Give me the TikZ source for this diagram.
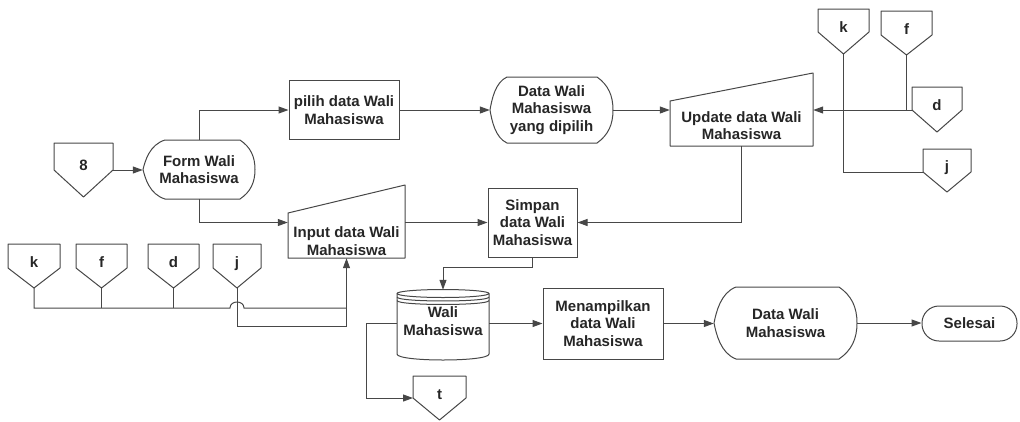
\documentclass[tikz,border=0pt]{standalone}
\usepackage{fontspec}
\setmainfont{Liberation Sans}
\usetikzlibrary{arrows.meta,calc}
\definecolor{ln}{gray}{0.28}
\definecolor{tx}{gray}{0.15}
\tikzset{
  shp/.style={draw=ln, line width=1pt, line join=round},
  lin/.style={draw=ln, line width=1pt},
  arr/.style={lin, -{Triangle[length=10pt,width=7pt]}},
  txt/.style={font=\fontsize{15}{17.5}\selectfont\bfseries, text=tx, align=center, inner sep=0pt},
  boxn/.style={txt, draw=ln, line width=1pt, rectangle},
  hold/.style={txt, rectangle, draw=none}
}
% off-page connector: name, left, top, width, shoulder, height, label
\newcommand\offpg[7]{%
  \draw[shp] (#2,#3) -- (#2+#4,#3) -- (#2+#4,#3+#5) -- (#2+#4/2,#3+#6) -- (#2,#3+#5) -- cycle;
  \node[txt, anchor=base] (#1) at (#2+#4/2,#3+0.4*#6+5.5) {#7};
  \coordinate (#1-tip) at (#2+#4/2,#3+#6);
  \coordinate (#1-sl) at (#2,#3+#5);
  \coordinate (#1-sr) at (#2+#4,#3+#5);
}
% display shape: L R T B a b
\newcommand\dispshp[6]{%
  \pgfmathsetmacro\dM{(#3+#4)/2}\pgfmathsetmacro\dH{#4-#3}%
  \draw[shp] (#1+#5,#3) -- (#2-#6,#3)
    .. controls (#2-0.3*#6,#3+0.12*\dH) and (#2,\dM-0.22*\dH) .. (#2,\dM)
    .. controls (#2,\dM+0.22*\dH) and (#2-0.3*#6,#4-0.12*\dH) .. (#2-#6,#4)
    -- (#1+#5,#4)
    .. controls (#1+0.3*#5,#4-0.08*\dH) and (#1+0.1*#5,\dM+0.15*\dH) .. (#1,\dM)
    .. controls (#1+0.1*#5,\dM-0.15*\dH) and (#1+0.3*#5,#3+0.08*\dH) .. cycle;
}
\begin{document}
\begin{tikzpicture}[x=1pt,y=-1pt]
\useasboundingbox (0,0) rectangle (1020,421);

% ---- top row
\offpg{c8}{54}{143}{59}{27}{54}{8}
\dispshp{143}{255}{140}{199}{22}{15}
\node[hold, minimum width=112pt, minimum height=59pt] (form) at (199,169.5) {Form Wali\\Mahasiswa};

\node[boxn, minimum width=110pt, minimum height=59pt] (pilih) at (344,110) {pilih data Wali\\Mahasiswa};

\dispshp{490}{613}{77}{143}{17}{16}
\node[hold, minimum width=123pt, minimum height=66pt] (ddp) at (551.5,110) {Data Wali\\Mahasiswa\\yang dipilih};

\draw[shp] (670,146) -- (670,101) -- (813,73) -- (813,146) -- cycle;
\node[hold, minimum width=143pt, minimum height=41pt] (upd) at (741.5,125.5) {Update data Wali\\Mahasiswa};

\offpg{k2}{818}{9}{51}{23}{45}{k}
\offpg{f2}{881}{11}{51}{24}{44}{f}
\offpg{d2}{912}{87}{50}{23}{45}{d}
\offpg{j2}{923}{149}{48}{23}{43}{j}

% ---- middle row
\draw[shp] (288,258) -- (288,213) -- (405,185) -- (405,258) -- cycle;
\node[hold, minimum width=117pt, minimum height=34pt] (inp) at (346.5,241) {Input data Wali\\Mahasiswa};

\node[boxn, minimum width=89pt, minimum height=69pt] (simpan) at (532.5,222.5) {Simpan\\data Wali\\Mahasiswa};

\offpg{k1}{8}{244}{52}{24}{44}{k}
\offpg{f1}{76}{244}{51}{24}{44}{f}
\offpg{d1}{148}{244}{51}{24}{44}{d}
\offpg{j1}{213}{244}{48}{24}{44}{j}

% ---- bottom row
\draw[shp] (443,293.5) ellipse[x radius=46, y radius=4];
\draw[shp] (397,293.5) -- (397,354) .. controls (397,362) and (489,362) .. (489,354) -- (489,293.5);
\draw[shp] (397,297) .. controls (397,302.3) and (489,302.3) .. (489,297);
\draw[shp] (397,300.5) .. controls (397,305.8) and (489,305.8) .. (489,300.5);
\node[hold, minimum width=92pt, minimum height=70pt] (db) at (443,325) {};
\node[txt] (dbt) at (443,321) {Wali\\Mahasiswa};

\node[boxn, minimum width=120pt, minimum height=71pt] (men) at (603,323.5) {Menampilkan\\data Wali\\Mahasiswa};

\dispshp{714}{857}{287}{359}{22}{18}
\node[hold, minimum width=143pt, minimum height=72pt] (dwm) at (785.5,323) {Data Wali\\Mahasiswa};

\node[boxn, minimum width=95pt, minimum height=35pt, rounded corners=17pt] (sel) at (969.5,323.5) {Selesai};

\offpg{t}{413}{376}{53}{22}{44}{t}

% ---- connectors
\draw[arr] (c8-sr) -- (c8-sr -| form.west);
\draw[arr] (form.north) |- (pilih.west);
\draw[arr] (pilih.east) -- (ddp.west);
\draw[arr] (ddp.east) -- (ddp.east -| upd.west);
\draw[lin] (f2-tip) -- (f2-tip |- d2-sl);
\draw[arr] (d2-sl) -- (d2-sl -| upd.east);
\draw[lin] (k2-tip) |- (j2-sl);
\draw[arr] (upd.south) |- (simpan.east);
\draw[arr] (form.south) |- (inp.west |- simpan.west);
\draw[arr] (inp.east |- simpan.west) -- (simpan.west);

\coordinate (busy) at (0,308);
\coordinate (jlow) at (0,326);
\draw[lin] (k1-tip) -- (k1-tip |- busy) -- ($(j1-tip |- busy)+(-7,0)$)
  .. controls +(0,-8) and +(0,-8) .. ($(j1-tip |- busy)+(7,0)$) -- (inp.south |- busy);
\draw[lin] (f1-tip) -- (f1-tip |- busy);
\draw[lin] (d1-tip) -- (d1-tip |- busy);
\draw[arr] (j1-tip) |- (jlow -| inp.south) -- (inp.south);

\draw[arr] (simpan.south) -- ++(0,10) -| (db.north);
\draw[arr] (db.east |- men.west) -- (men.west);
\draw[arr] (db.west |- men.west) -- ++(-30,0) |- (t-sl);
\draw[arr] (men.east) -- (men.east -| dwm.west);
\draw[arr] (dwm.east) -- (dwm.east -| sel.west);
\end{tikzpicture}
\end{document}
